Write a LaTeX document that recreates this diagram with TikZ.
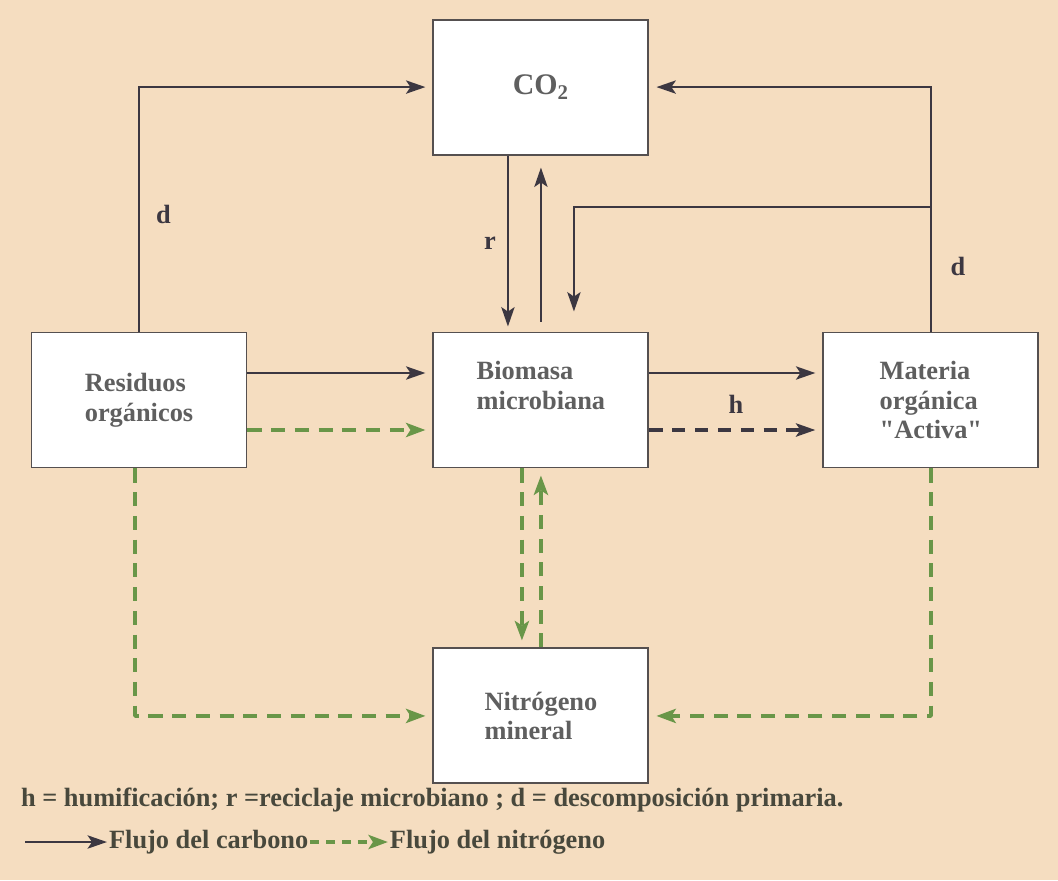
\documentclass[tikz,border=0pt]{standalone}
\usepackage{fontspec}
\setmainfont{Liberation Serif}
\usetikzlibrary{positioning,arrows.meta}

\definecolor{fondo}{RGB}{245,221,192}
\definecolor{borde}{RGB}{85,80,80}
\definecolor{textocaja}{RGB}{95,95,95}
\definecolor{flecha}{RGB}{60,55,65}
\definecolor{verde}{RGB}{105,150,72}
\definecolor{textoley}{RGB}{72,72,60}

\begin{document}
\begin{tikzpicture}[
  caja/.style={rectangle, draw=borde, line width=1.1pt, fill=white, minimum width=4.3cm, minimum height=2.7cm, align=left, text=textocaja, font=\fontsize{15}{17}\selectfont\bfseries},
  flujoC/.style={draw=flecha, line width=1.5pt, -{Stealth[length=11pt,width=7.5pt,inset=2.5pt]}, shorten >=4pt},
  flujoCd/.style={flujoC, line width=2.2pt, dash pattern=on 7.5pt off 5.5pt},
  flujoN/.style={draw=verde, line width=2.2pt, dash pattern=on 8pt off 5.5pt, line join=round, -{Stealth[length=11pt,width=8pt,inset=2.5pt]}, shorten >=4pt},
  etiqueta/.style={text=flecha, font=\fontsize{15}{17}\selectfont\bfseries},
  leyenda/.style={text=textoley, inner sep=1pt, font=\fontsize{15}{17}\selectfont\bfseries}
]
\fill[fondo] (0,0) rectangle (21.16,-17.6);
\useasboundingbox (0,0) rectangle (21.16,-17.6);

% cajas
\node (residuos) [caja] at (2.78,-8.0) {Residuos\\orgánicos};
\node (biomasa) [caja, right=3.7cm of residuos] {Biomasa\\microbiana\\~};
\node (materia) [caja, right=3.46cm of biomasa] {Materia\\orgánica\\\textquotedbl Activa\textquotedbl};
\node (co2) [caja, above=3.52cm of biomasa, font=\fontsize{17}{19}\selectfont\bfseries] {CO\textsubscript{2}};
\node (nitrogeno) [caja, below=3.58cm of biomasa] {Nitrógeno\\mineral};

\coordinate (ramaY) at (0,-4.14);
\coordinate (rama) at (materia.north |- ramaY);
\coordinate (caida) at ([xshift=0.66cm, yshift=0.4cm]biomasa.north);

% flujo del carbono
\draw[flujoC] (residuos.north) |- node[etiqueta, pos=0.24, right=0.2cm] {d} (co2.west);
\draw[flujoC] (materia.north) |- node[etiqueta, pos=0.134, right=0.25cm] {d} (co2.east);
\draw[flujoC, shorten >=0] (rama) -| (caida);
\draw[flujoC, shorten >=0.1cm] ([xshift=-0.66cm]co2.south) -- node[etiqueta, left=0.1cm] {r} ([xshift=-0.66cm]biomasa.north);
\draw[flujoC, shorten <=0.2cm, shorten >=0.24cm] (biomasa.north) -- (co2.south);
\draw[flujoC] ([yshift=0.54cm]residuos.east) -- ([yshift=0.54cm]biomasa.west);
\draw[flujoC] ([yshift=0.54cm]biomasa.east) -- node[etiqueta, below=0.3cm] {h} ([yshift=0.54cm]materia.west);
\draw[flujoCd] ([yshift=-0.6cm]biomasa.east) -- ([yshift=-0.6cm]materia.west);

% flujo del nitrógeno
\draw[flujoN] ([yshift=-0.6cm]residuos.east) -- ([yshift=-0.6cm]biomasa.west);
\draw[flujoN] ([xshift=-0.38cm]biomasa.south) -- ([xshift=-0.38cm]nitrogeno.north);
\draw[flujoN] (nitrogeno.north) -- (biomasa.south);
\draw[flujoN] ([xshift=-0.08cm]residuos.south) |- (nitrogeno.west);
\draw[flujoN] (materia.south) |- (nitrogeno.east);

% leyenda
\node (clave) [leyenda, anchor=west] at (0.38,-16.0) {h = humificación; r =reciclaje microbiano ; d = descomposición primaria.};
\coordinate (inicio) at (0.5,-16.84);
\node (lcarbono) [leyenda, anchor=west] at (2.14,-16.84) {Flujo del carbono};
\node (lnitro) [leyenda, right=1.55cm of lcarbono] {Flujo del nitrógeno};
\draw[flujoC, shorten >=0] (inicio) -- (lcarbono.west);
\draw[flujoN, line width=2pt, dash pattern=on 5pt off 4pt, shorten >=0] (lcarbono.east) -- (lnitro.west);
\end{tikzpicture}
\end{document}
